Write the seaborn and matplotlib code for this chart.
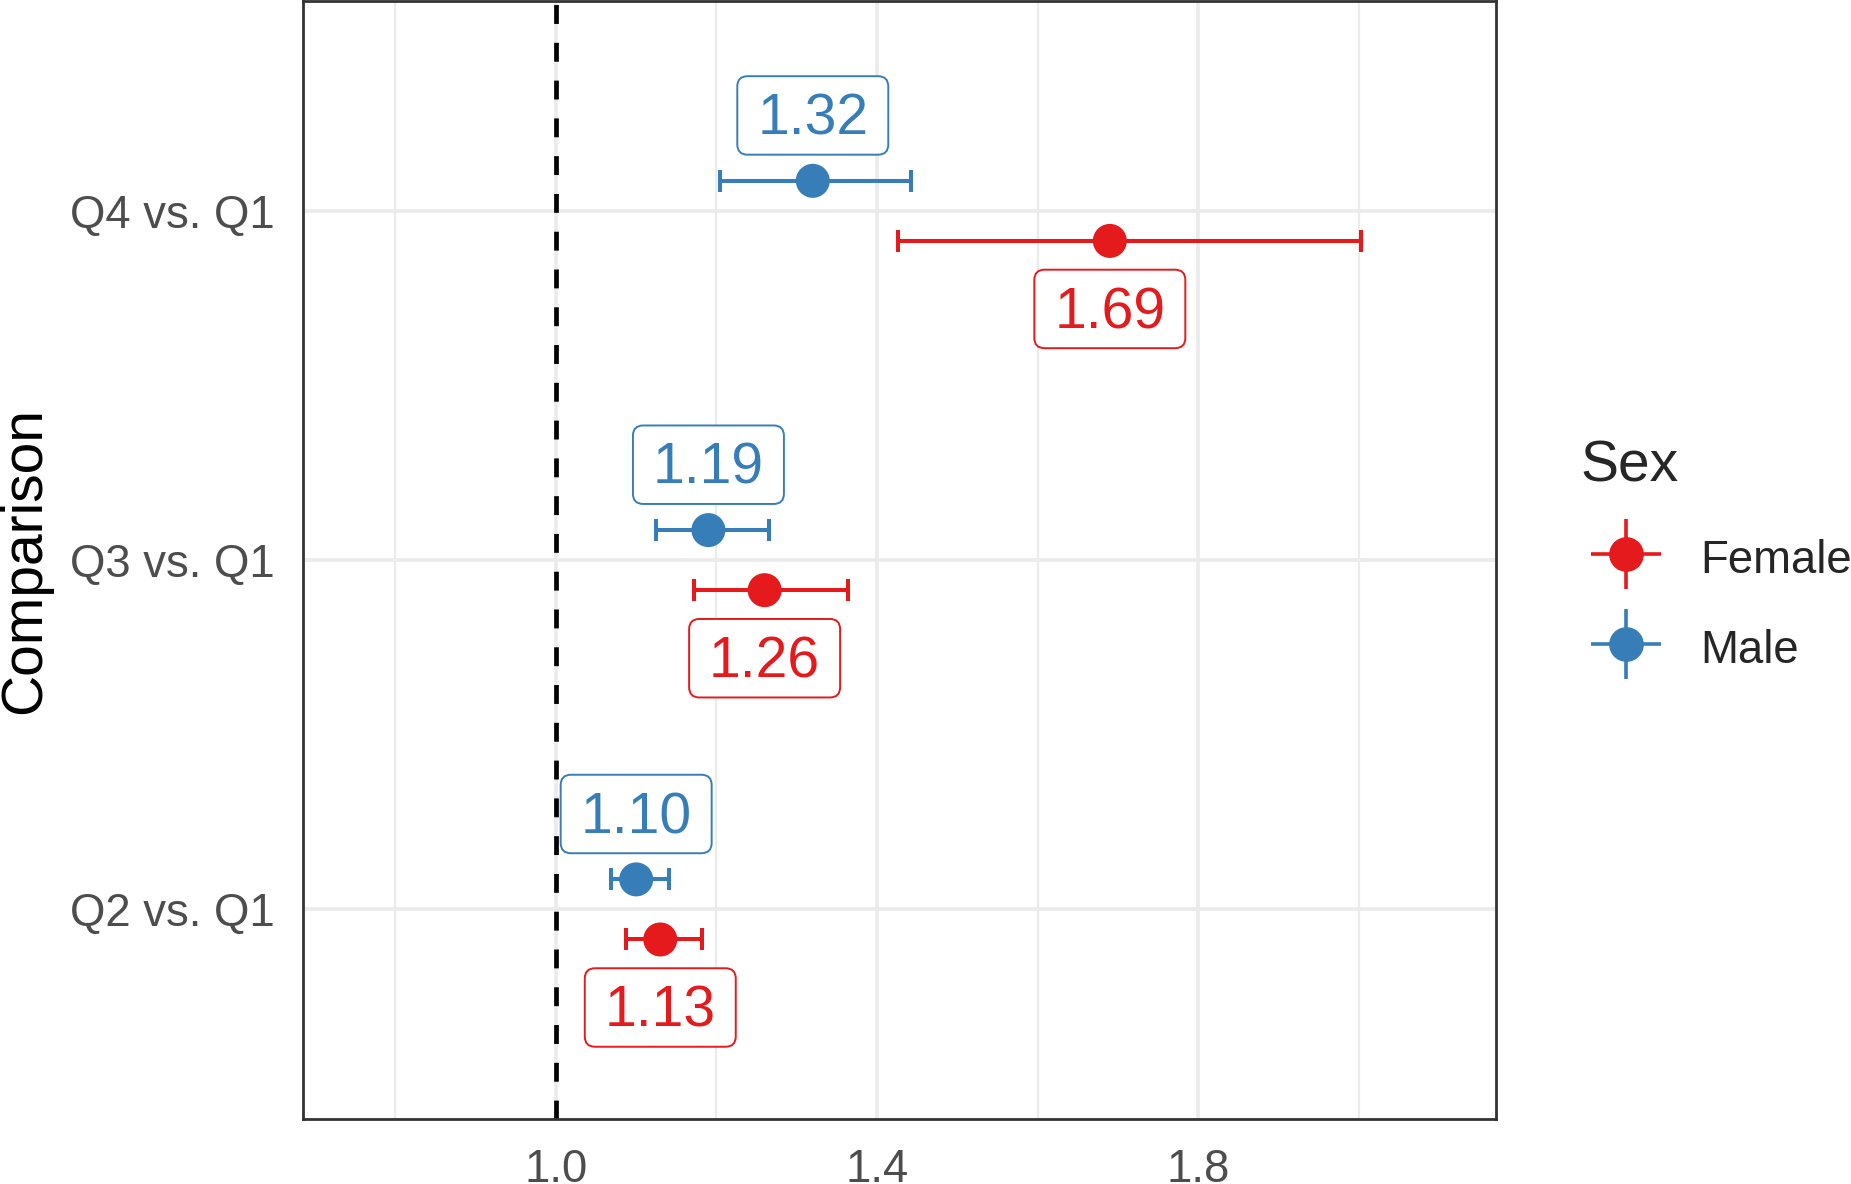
import numpy as np
import pandas as pd
import matplotlib
matplotlib.use("Agg")
import matplotlib.pyplot as plt
import seaborn as sns
from matplotlib.lines import Line2D
from matplotlib.patches import BoxStyle
from matplotlib.ticker import FixedLocator

# Odds ratios (and 95% CI) by quartile comparison and sex
comparisons = ["Q2 vs. Q1", "Q3 vs. Q1", "Q4 vs. Q1"]
female_or = [1.13, 1.26, 1.69]
female_lo = [1.087, 1.172, 1.426]
female_hi = [1.182, 1.364, 2.003]
male_or = [1.10, 1.19, 1.32]
male_lo = [1.069, 1.125, 1.204]
male_hi = [1.141, 1.266, 1.442]

sexes = ["Female", "Male"]
colors = {"Female": "#E41A1C", "Male": "#377EB8"}
dodge = {"Female": -0.086, "Male": 0.086}
label_shift = {"Female": -0.207, "Male": 0.175}

rows = []
for sex, est, lo, hi in [("Female", female_or, female_lo, female_hi),
                         ("Male", male_or, male_lo, male_hi)]:
    for i, comp in enumerate(comparisons):
        rows.append({"Comparison": comp, "Sex": sex, "OR": est[i], "lo": lo[i], "hi": hi[i],
                     "pos": i + 1 + dodge[sex]})
df = pd.DataFrame(rows)

sns.set_theme(style="white")
plt.rcParams["font.family"] = ["Liberation Sans", "DejaVu Sans"]

fig = plt.figure(figsize=(18.51, 11.84), dpi=100)
ax = fig.add_axes([0.1637, 0.0549, 0.6445, 0.944])

# grid (ggplot theme_bw look)
ax.set_xlim(0.685, 2.171)
ax.set_ylim(0.4, 3.6)
ax.xaxis.set_major_locator(FixedLocator([1.0, 1.4, 1.8]))
ax.xaxis.set_minor_locator(FixedLocator([0.8, 1.2, 1.6, 2.0]))
ax.set_yticks([1, 2, 3])
ax.set_yticklabels(comparisons)
ax.grid(which="major", color="#EBEBEB", lw=2.6, zorder=0)
ax.grid(which="minor", axis="x", color="#EBEBEB", lw=1.6, zorder=0)
ax.set_axisbelow(True)

ax.axvline(1.0, color="black", lw=3.4, ls=(0, (4, 4)), zorder=1)

# error bars
for sex in sexes:
    d = df[df["Sex"] == sex]
    ax.errorbar(d["OR"], d["pos"], xerr=[d["OR"] - d["lo"], d["hi"] - d["OR"]],
                fmt="none", ecolor=colors[sex], elinewidth=2.9, capsize=8, capthick=2.9, zorder=2)

sns.scatterplot(data=df, x="OR", y="pos", hue="Sex", palette=colors, s=600,
                linewidth=0, legend=False, ax=ax, zorder=3)


class PadBox:
    def __init__(self, padx, pad_top, pad_bot, rad):
        self.padx, self.pad_top, self.pad_bot, self.rad = padx, pad_top, pad_bot, rad

    def __call__(self, x0, y0, width, height, mutation_size):
        px = self.padx * mutation_size
        pt = self.pad_top * mutation_size
        pb = self.pad_bot * mutation_size
        return BoxStyle.Round(pad=0, rounding_size=self.rad * mutation_size)(
            x0 - px, y0 - pb, width + 2 * px, height + pt + pb, 1.0)


# value labels
for _, r in df.iterrows():
    ax.text(r["OR"], r["pos"] + label_shift[r["Sex"]], f"{r['OR']:.2f}",
            ha="center", va="center", fontsize=41, color=colors[r["Sex"]], zorder=4,
            bbox=dict(boxstyle=PadBox(0.35, 0.29, 0.14, 0.18), fc="white",
                      ec=colors[r["Sex"]], lw=1.4))

for s in ax.spines.values():
    s.set_color("#333333")
    s.set_linewidth(2.0)
ax.tick_params(axis="both", which="major", length=10, width=2.4, color="#333333",
               labelsize=32.8, labelcolor="#4D4D4D")
ax.tick_params(axis="x", which="major", pad=11)
ax.tick_params(axis="y", which="major", pad=10.5)
ax.tick_params(axis="both", which="minor", length=0)
ax.set_xlabel("")
ax.set_ylabel("Comparison", fontsize=41, color="black", labelpad=12.5)

handles = [(Line2D([], [], marker="+", ms=50, mew=2.6, color=colors[s], ls=""),
            Line2D([], [], marker="o", ms=24, color=colors[s], ls=""))
           for s in sexes]
leg = fig.legend(handles, sexes, title="Sex", loc="upper left",
                 bbox_to_anchor=(0.8417, 0.648), frameon=False, fontsize=32.8,
                 title_fontsize=41, borderpad=0, handlelength=2.0, handleheight=1.2,
                 handletextpad=0.62, labelspacing=0.9, alignment="left")

fig.savefig("out.png", dpi=100)
